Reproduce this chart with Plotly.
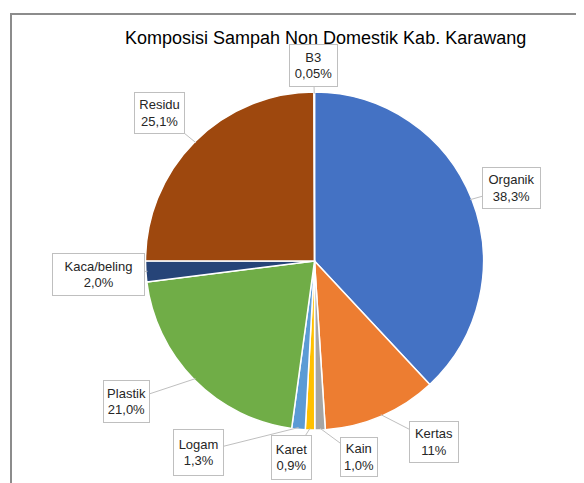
import math
import plotly.graph_objects as go

categories = ["Organik", "Kertas", "Kain", "Karet", "Logam", "Plastik", "Kaca/beling", "Residu", "B3"]
values = [38.3, 11.0, 1.0, 0.9, 1.3, 21.0, 2.0, 25.1, 0.05]
value_labels = ["38,3%", "11%", "1,0%", "0,9%", "1,3%", "21,0%", "2,0%", "25,1%", "0,05%"]
colors = ["#4472C4", "#ED7D31", "#A5A5A5", "#FFC000", "#5B9BD5", "#70AD47", "#264478", "#9E480E", "#636363"]
title = "Komposisi Sampah Non Domestik Kab. Karawang"

# label boxes (left, top, right, bottom) in page pixels -- layout only
label_box = {
    "Organik": (482, 167, 541, 209), "Kertas": (409, 421, 459, 463),
    "Kain": (340, 437, 378, 477), "Karet": (271, 435, 312, 480),
    "Logam": (173, 429, 224, 476), "Plastik": (103, 380, 150, 423),
    "Kaca/beling": (52, 253, 145, 296), "Residu": (134, 92, 185, 134),
    "B3": (289, 44, 338, 87),
}

W, H = 584, 483
OFF = 8  # page body margin of the html page
cx, cy, R = 314.5, 261, 169


def px2paper(x, y):
    return (x - OFF) / W, 1 - (y - OFF) / H


dx0, dy1 = px2paper(cx - R, cy - R)
dx1, dy0 = px2paper(cx + R, cy + R)

fig = go.Figure(go.Pie(
    labels=categories, values=values, sort=False, direction="clockwise", rotation=0,
    marker=dict(colors=colors, line=dict(color="white", width=1.5)),
    textinfo="none", hoverinfo="label+percent",
    domain=dict(x=[dx0, dx1], y=[dy0, dy1]),
    showlegend=False,
))

total = sum(values)
cum = 0
annotations = []
for cat, v, lab in zip(categories, values, value_labels):
    mid = (cum + v / 2) / total * 2 * math.pi
    cum += v
    px = cx + R * 0.99 * math.sin(mid)
    py = cy - R * 0.99 * math.cos(mid)
    l, t, r, b = label_box[cat]
    bx, by = (l + r) / 2, (t + b) / 2
    ax_, ay_ = px2paper(px, py)
    annotations.append(dict(
        x=ax_, y=ay_, xref="paper", yref="paper",
        ax=bx - px, ay=by - py, axref="pixel", ayref="pixel",
        text=f"{cat}<br>{lab}", showarrow=True, arrowhead=0, arrowwidth=1,
        arrowcolor="#BFBFBF", bordercolor="#BFBFBF", borderwidth=1, borderpad=1,
        width=r - l - 4, height=b - t - 4,
        bgcolor="white", font=dict(family="Liberation Sans", size=13, color="#262626"),
        align="center", valign="middle",
    ))

tx, ty = px2paper(325, 38)
annotations.append(dict(
    x=tx, y=ty, xref="paper", yref="paper", showarrow=False,
    text=title, font=dict(family="Liberation Sans", size=18, color="#000000"),
    xanchor="center", yanchor="middle",
))

fx0, fy1 = px2paper(11, 14)
fig.update_layout(
    width=W, height=H, margin=dict(l=0, r=0, t=0, b=0),
    paper_bgcolor="white", plot_bgcolor="white",
    annotations=annotations,
    shapes=[dict(type="rect", xref="paper", yref="paper",
                 x0=fx0, x1=1.05, y0=-0.05, y1=fy1,
                 line=dict(color="#8C8C8C", width=2), layer="below")],
)

fig.write_html("out.html")
